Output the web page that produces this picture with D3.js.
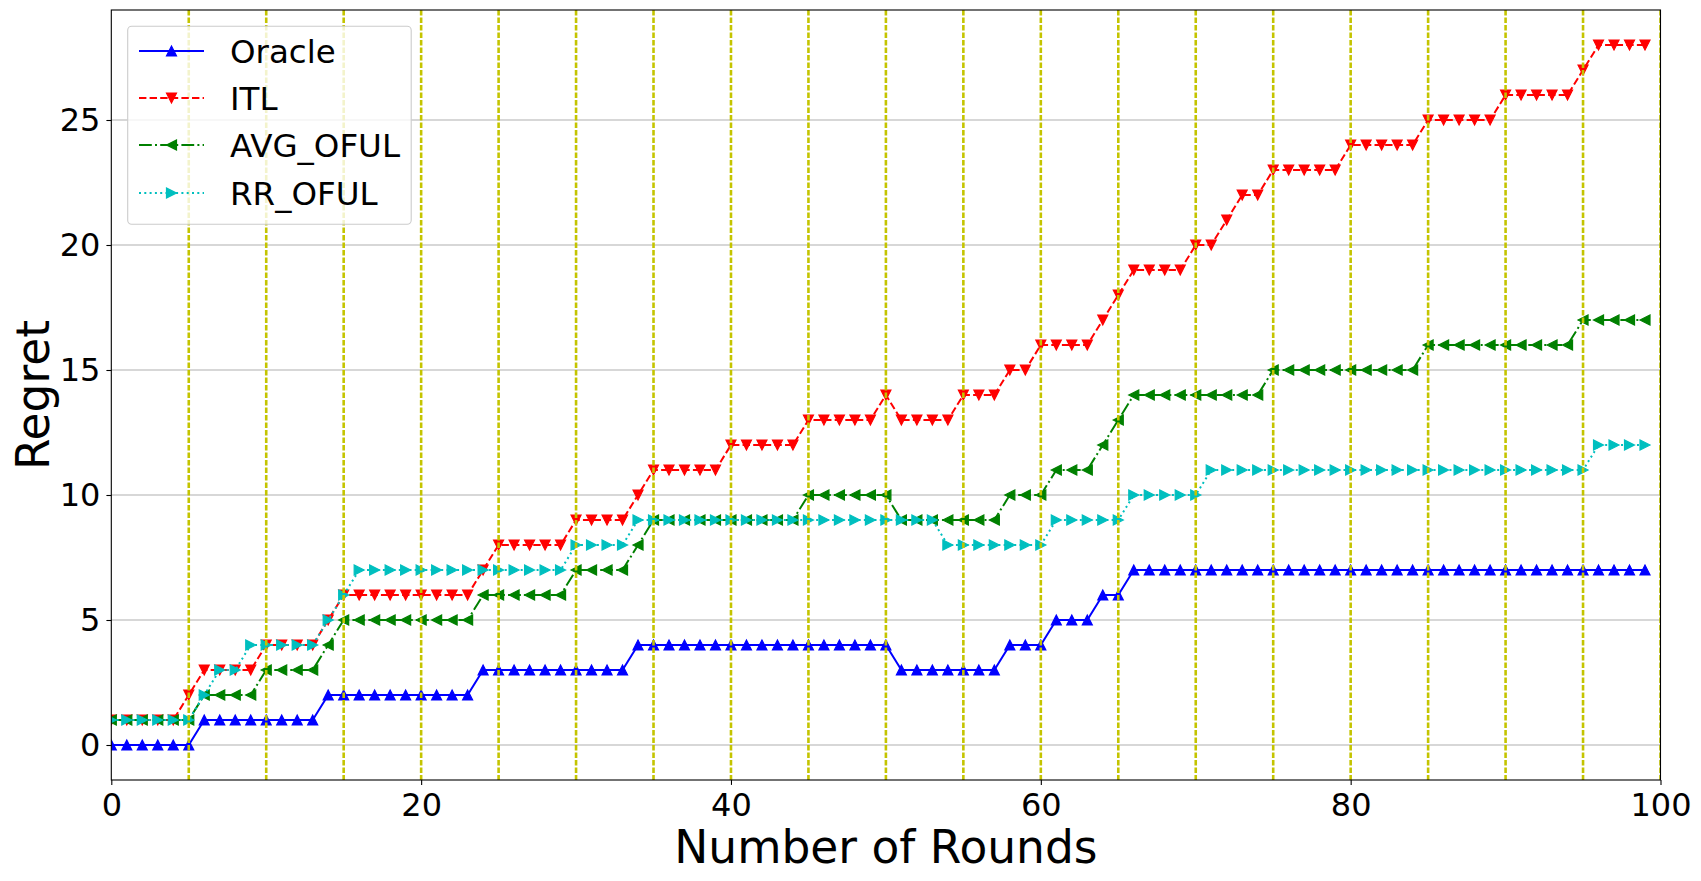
<!DOCTYPE html>
<html>
<head>
<meta charset="utf-8">
<script src="https://cdn.jsdelivr.net/npm/d3@7"></script>
<style>
  body { margin: 0; background: #fff; }
  svg text { font-family: "DejaVu Sans", sans-serif; }
</style>
</head>
<body>
<div class="js-chart"></div>
<script>
'use strict';

// rounds 0..99
const rounds = d3.range(0, 100);

const oracle = [
	0,0,0,0,0,0, 1,1,1,1,1,1,1,1, 2,2,2,2,2,2,2,2,2,2,
	3,3,3,3,3,3,3,3,3,3, 4,4,4,4,4,4,4,4,4,4,4,4,4,4,4,4,4,
	3,3,3,3,3,3,3, 4,4,4, 5,5,5, 6,6,
	7,7,7,7,7,7,7,7,7,7,7,7,7,7,7,7,7,7,7,7,7,7,7,7,7,7,7,7,7,7,7,7,7,7
];

const itl = [
	1,1,1,1,1, 2, 3,3,3,3, 4,4,4,4, 5, 6,6,6,6,6,6,6,6,6, 7,
	8,8,8,8,8, 9,9,9,9, 10, 11,11,11,11,11, 12,12,12,12,12,
	13,13,13,13,13, 14, 13,13,13,13, 14,14,14, 15,15, 16,16,16,16,
	17, 18, 19,19,19,19, 20,20, 21, 22,22, 23,23,23,23,23,
	24,24,24,24,24, 25,25,25,25,25, 26,26,26,26,26, 27, 28,28,28,28
];

const avgOful = [
	1,1,1,1,1,1, 2,2,2,2, 3,3,3,3, 4, 5,5,5,5,5,5,5,5,5,
	6,6,6,6,6,6, 7,7,7,7, 8, 9,9,9,9,9,9,9,9,9,9,
	10,10,10,10,10,10, 9,9,9,9,9,9,9, 10,10,10, 11,11,11, 12, 13,
	14,14,14,14,14,14,14,14,14, 15,15,15,15,15,15,15,15,15,15,
	16,16,16,16,16,16,16,16,16,16, 17,17,17,17,17
];

const rrOful = [
	1,1,1,1,1,1, 2, 3,3, 4,4,4,4,4, 5, 6,
	7,7,7,7,7,7,7,7,7,7,7,7,7,7, 8,8,8,8,
	9,9,9,9,9,9,9,9,9,9,9,9,9,9,9,9,9,9,9,9,
	8,8,8,8,8,8,8, 9,9,9,9,9, 10,10,10,10,10,
	11,11,11,11,11,11,11,11,11,11,11,11,11,11,11,11,11,11,11,11,11,11,11,11,11,
	12,12,12,12
];

const seriesNames = ['Oracle', 'ITL', 'AVG_OFUL', 'RR_OFUL'];
const seriesValues = [oracle, itl, avgOful, rrOful];
const seriesColors = ['#0000ff', '#ff0000', '#008000', '#00bfbf'];
const seriesDash = [null, '7.4,3.2', '12.8,3.2,2,3.2', '2,3.3'];
const seriesMarker = ['up', 'down', 'left', 'right'];

const xTicks = [0, 20, 40, 60, 80, 100];
const yTicks = [0, 5, 10, 15, 20, 25];
const vLines = d3.range(5, 101, 5);

// size of the page
let svgWidth = 1701;
let svgHeight = 881;
let plotLeft = 111.3, plotRight = 1660.5, plotTop = 10, plotBottom = 780;
let markerR = 5;

const xScale = d3.scaleLinear().domain([0, 100]).range([plotLeft, plotRight]);
const yScale = d3.scaleLinear().domain([-1.4, 29.4]).range([plotBottom, plotTop]);

let svg = d3.select('.js-chart')
	.append('svg')
	.attr('width', svgWidth)
	.attr('height', svgHeight);

// horizontal grid
svg.append('g')
	.selectAll('line')
	.data(yTicks)
	.enter()
	.append('line')
	.attr('x1', plotLeft)
	.attr('x2', plotRight)
	.attr('y1', d => yScale(d))
	.attr('y2', d => yScale(d))
	.attr('stroke', '#b0b0b0')
	.attr('stroke-width', 1.1);

// triangle marker path, centred on its bounding box like matplotlib
function markerPath(kind, r) {
	const pts = {
		up: [[0, -r], [-r, r], [r, r]],
		down: [[0, r], [-r, -r], [r, -r]],
		left: [[-r, 0], [r, -r], [r, r]],
		right: [[r, 0], [-r, -r], [-r, r]]
	}[kind];
	return 'M' + pts.map(p => p.join(',')).join('L') + 'Z';
}

svg.append('clipPath').attr('id', 'plotclip')
	.append('rect')
	.attr('x', plotLeft).attr('y', plotTop)
	.attr('width', plotRight - plotLeft).attr('height', plotBottom - plotTop);

const plot = svg.append('g').attr('clip-path', 'url(#plotclip)');

seriesValues.forEach(function(values, i) {
	const line = d3.line()
		.x((d, j) => xScale(rounds[j]))
		.y(d => yScale(d));

	plot.append('path')
		.datum(values)
		.attr('d', line)
		.attr('fill', 'none')
		.attr('stroke', seriesColors[i])
		.attr('stroke-width', 2)
		.attr('stroke-dasharray', seriesDash[i]);

	plot.append('g')
		.selectAll('path')
		.data(values)
		.enter()
		.append('path')
		.attr('d', markerPath(seriesMarker[i], markerR))
		.attr('transform', (d, j) => `translate(${xScale(rounds[j])},${yScale(d)})`)
		.attr('fill', seriesColors[i])
		.attr('stroke', seriesColors[i])
		.attr('stroke-width', 1.2);
});

// yellow dashed markers every 5 rounds, drawn over the series
plot.append('g')
	.selectAll('line')
	.data(vLines)
	.enter()
	.append('line')
	.attr('x1', d => xScale(d))
	.attr('x2', d => xScale(d))
	.attr('y1', plotTop)
	.attr('y2', plotBottom)
	.attr('stroke', '#c4c400')
	.attr('stroke-width', 2.6)
	.attr('stroke-dasharray', '5.5,2');

// frame
svg.append('rect')
	.attr('x', plotLeft)
	.attr('y', plotTop)
	.attr('width', plotRight - plotLeft)
	.attr('height', plotBottom - plotTop)
	.attr('fill', 'none')
	.attr('stroke', '#000')
	.attr('stroke-width', 1.1);

// axes
const xAxis = d3.axisBottom(xScale).tickValues(xTicks).tickSize(4.9).tickPadding(5);
const yAxis = d3.axisLeft(yScale).tickValues(yTicks).tickSize(4.9).tickPadding(6);

const gx = svg.append('g')
	.attr('transform', `translate(0,${plotBottom})`)
	.call(xAxis);
const gy = svg.append('g')
	.attr('transform', `translate(${plotLeft},0)`)
	.call(yAxis);

[gx, gy].forEach(function(g) {
	g.select('.domain').remove();
	g.selectAll('line').attr('stroke', '#000').attr('stroke-width', 1.1);
	g.selectAll('text')
		.attr('fill', '#000')
		.style('font-size', '32px')
		.style('font-family', '"DejaVu Sans", sans-serif');
});
gx.selectAll('text').attr('dy', '0.8em');

// axis titles
svg.append('text')
	.attr('x', (plotLeft + plotRight) / 2)
	.attr('y', 863)
	.attr('text-anchor', 'middle')
	.style('font-size', '45.5px')
	.text('Number of Rounds');

svg.append('text')
	.attr('transform', `translate(49,${(plotTop + plotBottom) / 2}) rotate(-90)`)
	.attr('text-anchor', 'middle')
	.style('font-size', '45.5px')
	.text('Regret');

// legend
const legend = svg.append('g');

legend.append('rect')
	.attr('x', 127.7)
	.attr('y', 26.3)
	.attr('width', 283.5)
	.attr('height', 198)
	.attr('rx', 4)
	.attr('fill', '#fff')
	.attr('fill-opacity', 0.8)
	.attr('stroke', '#cccccc')
	.attr('stroke-width', 1.1);

const legendRows = [51, 98, 145, 193];

seriesNames.forEach(function(name, i) {
	const y = legendRows[i];
	legend.append('line')
		.attr('x1', 139)
		.attr('x2', 204)
		.attr('y1', y)
		.attr('y2', y)
		.attr('stroke', seriesColors[i])
		.attr('stroke-width', 2)
		.attr('stroke-dasharray', seriesDash[i]);
	legend.append('path')
		.attr('d', markerPath(seriesMarker[i], markerR))
		.attr('transform', `translate(171.5,${y})`)
		.attr('fill', seriesColors[i])
		.attr('stroke', seriesColors[i])
		.attr('stroke-width', 1.2);
	legend.append('text')
		.attr('x', 230)
		.attr('y', y + 12)
		.style('font-size', '32.5px')
		.text(name);
});
</script>
</body>
</html>
